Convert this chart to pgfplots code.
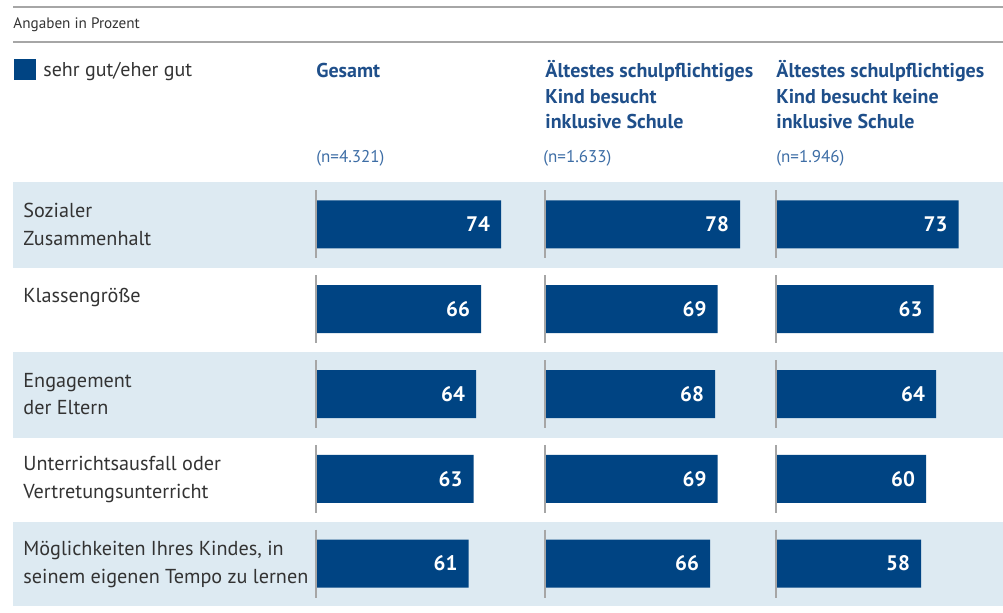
\documentclass[border=0pt]{standalone}
\usepackage{pgfplots}
\usepackage{pgfplotstable}
\pgfplotsset{compat=1.18}
\usepackage{fontspec}
\setmainfont{PT Sans}

\definecolor{bar}{HTML}{004483}
\definecolor{band}{HTML}{DDEAF2}
\definecolor{head}{HTML}{1F4F8A}
\definecolor{ntext}{HTML}{3D6DA5}
\definecolor{lab}{HTML}{333333}
\definecolor{rule}{HTML}{A6A6A6}

\pgfplotstableread{
row g i k
1 74 78 73
2 66 69 63
3 64 68 64
4 63 69 60
5 61 66 58
}\data

\pgfplotsset{
  panel/.style={
    anchor=south west, width=125pt, height=212pt, scale only axis,
    xmin=0, xmax=100, ymin=0.5, ymax=5.5, y dir=reverse,
    hide axis, clip=false, xbar, bar width=24pt,
    nodes near coords,
    /pgf/number format/assume math mode=true,
    every node near coord/.append style={anchor=east, xshift=-2pt,
      text=white, font=\fontsize{10.5}{12}\selectfont\bfseries},
  },
}

\begin{document}
\begin{tikzpicture}[x=0.5pt, y=0.5pt]
\useasboundingbox (0,0) rectangle (1003,612);

% rules and caption
\draw[rule, line width=1pt] (13,{612-7}) -- (1003,{612-7});
\draw[rule, line width=1pt] (13,{612-42}) -- (1003,{612-42});
\node[anchor=base west, inner sep=0, text=lab, font=\fontsize{7.6}{9}\selectfont] at (13,{612-29}) {Angaben in Prozent};

% legend
\fill[bar] (14,{612-59}) rectangle (36,{612-80});
\node[anchor=base west, inner sep=0, text=lab, font=\fontsize{10}{12}\selectfont] at (43,{612-77}) {sehr gut/eher gut};

% column heads
\begin{scope}[every node/.style={anchor=base west, inner sep=0, text=head, font=\fontsize{10}{12}\selectfont\bfseries}]
\node at (316,{612-78}) {Gesamt};
\node at (545,{612-78}) {Ältestes schulpflichtiges};
\node at (545,{612-104}) {Kind besucht};
\node at (545,{612-129}) {inklusive Schule};
\node at (776,{612-78}) {Ältestes schulpflichtiges};
\node at (776,{612-104}) {Kind besucht keine};
\node at (776,{612-129}) {inklusive Schule};
\end{scope}
\begin{scope}[every node/.style={anchor=base west, inner sep=0, text=ntext, font=\fontsize{8.5}{10}\selectfont}]
\node at (316,{612-163}) {(n=4.321)};
\node at (543,{612-163}) {(n=1.633)};
\node at (776,{612-163}) {(n=1.946)};
\end{scope}

% background bands
\fill[band] (13,{612-182}) rectangle (1003,{612-268});
\fill[band] (13,{612-352}) rectangle (1003,{612-438});
\fill[band] (13,{612-522}) rectangle (1003,{612-606});

% row labels
\begin{scope}[every node/.style={anchor=base west, inner sep=0, text=lab, font=\fontsize{10.1}{12}\selectfont}]
\node at (23,{612-218}) {Sozialer};
\node at (23,{612-246}) {Zusammenhalt};
\node at (23,{612-303}) {Klassengröße};
\node at (23,{612-387}) {Engagement};
\node at (23,{612-414}) {der Eltern};
\node at (23,{612-470}) {Unterrichtsausfall oder};
\node at (23,{612-498}) {Vertretungsunterricht};
\node at (23,{612-555}) {Möglichkeiten Ihres Kindes, in};
\node at (23,{612-583}) {seinem eigenen Tempo zu lernen};
\end{scope}

\begin{axis}[panel, at={(158pt,3pt)}]
\addplot[fill=bar, draw=none] table[x=g, y=row] {\data};
\pgfplotsinvokeforeach{1,...,5}{\draw[rule, line width=1pt] (axis cs:0,#1-0.4) -- (axis cs:0,#1+0.4);}
\end{axis}

\begin{axis}[panel, at={(272.5pt,3pt)}]
\addplot[fill=bar, draw=none] table[x=i, y=row] {\data};
\pgfplotsinvokeforeach{1,...,5}{\draw[rule, line width=1pt] (axis cs:0,#1-0.4) -- (axis cs:0,#1+0.4);}
\end{axis}

\begin{axis}[panel, at={(388pt,3pt)}]
\addplot[fill=bar, draw=none] table[x=k, y=row] {\data};
\pgfplotsinvokeforeach{1,...,5}{\draw[rule, line width=1pt] (axis cs:0,#1-0.4) -- (axis cs:0,#1+0.4);}
\end{axis}
\end{tikzpicture}
\end{document}
